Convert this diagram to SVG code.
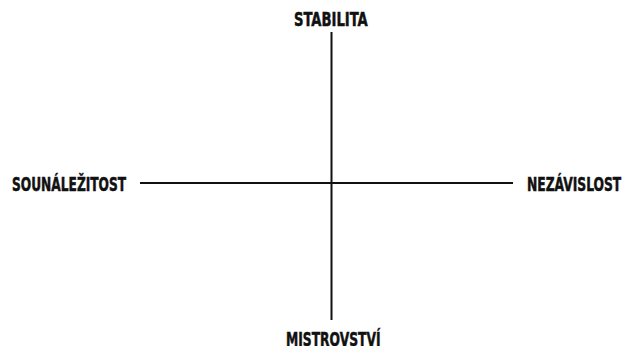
<svg xmlns="http://www.w3.org/2000/svg" width="625" height="346" viewBox="0 0 625 346">
<style>
.lbl{font-family:"DejaVu Sans Condensed","DejaVu Sans",sans-serif;font-weight:bold;font-size:19px;fill:#111;stroke:#111;stroke-width:0.5}
.ax{stroke:#111;stroke-width:2;fill:none}
</style>
<rect width="625" height="346" fill="#fff"/>
<g id="connectors">
<line class="ax" x1="331.5" y1="32" x2="331.5" y2="320"/>
<line class="ax" x1="140" y1="183" x2="513" y2="183"/>
</g>
<g id="stabilita"><text class="lbl" transform="translate(294,26) scale(0.77,1)">STABILITA</text></g>
<g id="sounalezitost"><text class="lbl" transform="translate(12,190.5) scale(0.715,1)">SOUNÁLEŽITOST</text></g>
<g id="nezavislost"><text class="lbl" transform="translate(527,190.5) scale(0.72,1)">NEZÁVISLOST</text></g>
<g id="mistrovstvi"><text class="lbl" transform="translate(286,345.5) scale(0.72,1)">MISTROVSTVÍ</text></g>
</svg>
